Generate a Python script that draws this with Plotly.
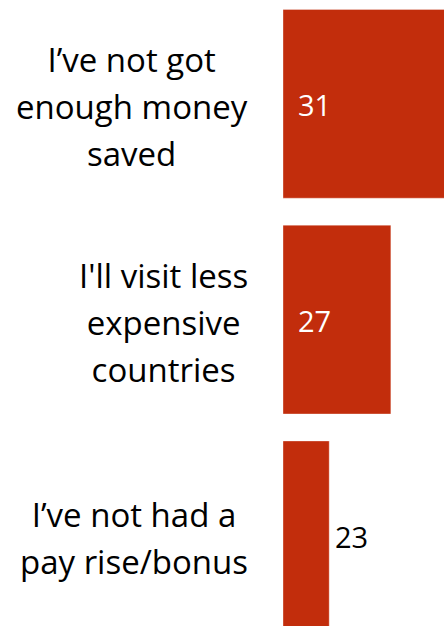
import plotly.graph_objects as go

# Reasons given, top to bottom, and the share of respondents for each
categories = [
    "I’ve not got<br>enough money<br>saved",
    "I'll visit less<br>expensive<br>countries",
    "I’ve not had a<br>pay rise/bonus",
]
values = [31, 27, 23]
label_inside = [True, True, False]

X_MIN, X_MAX = 20, 30.45
BAR_COLOR = "#C22D0C"
FONT = "Open Sans"

fig = go.Figure(
    go.Bar(
        x=[v - X_MIN for v in values],  # bars start at X_MIN
        y=categories,
        orientation="h",
        base=X_MIN,
        marker=dict(color=BAR_COLOR, line=dict(color="rgba(255,255,255,0.35)", width=1)),
        hoverinfo="skip",
    )
)

annotations = []
for cat, val, inside in zip(categories, values, label_inside):
    lines = cat.split("<br>")
    text = "<br>".join(f'<span style="font-size:33px">{ln}</span>' for ln in lines)
    annotations.append(dict(
        x=-0.205, xref="paper", xanchor="right",
        y=cat, yref="y", yanchor="middle", yshift=-3,
        text=text, align="center", showarrow=False,
        font=dict(family=FONT, size=36, color="#000000"),
    ))
    annotations.append(dict(
        x=X_MIN if inside else val, xref="x", xanchor="left",
        xshift=13 if inside else 4,
        y=cat, yref="y", yanchor="middle", yshift=-1,
        text=str(val), showarrow=False,
        font=dict(family=FONT, size=29, color="white" if inside else "#000000"),
    ))

fig.update_layout(
    width=444, height=626,
    margin=dict(l=283, r=0, t=0, b=0),
    paper_bgcolor="white", plot_bgcolor="white",
    bargap=0.125,
    showlegend=False,
    xaxis=dict(range=[X_MIN, X_MAX], visible=False, fixedrange=True),
    yaxis=dict(
        type="category", categoryorder="array", categoryarray=categories,
        range=[2.420, -0.481], visible=False, fixedrange=True,
    ),
    annotations=annotations,
)

fig.write_html("out.html", config={"displayModeBar": False})
